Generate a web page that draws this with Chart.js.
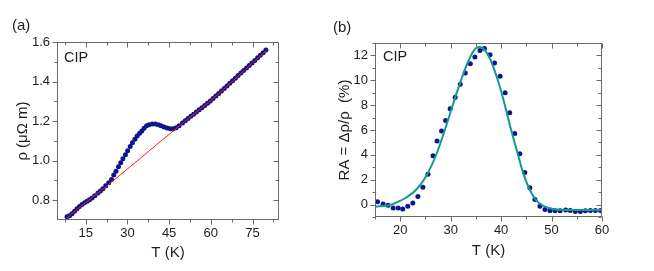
<!DOCTYPE html>
<html>
<head>
<meta charset="utf-8">
<script src="https://cdn.jsdelivr.net/npm/chart.js@4.4.1/dist/chart.umd.min.js"></script>
<style>
    html, body { margin: 0; padding: 0; background: #fff; }
    #wrap { position: relative; width: 654px; height: 271px; }
    canvas { position: absolute; top: 0; }
    #chart-a { left: 0; }
    #chart-b { left: 327px; }
</style>
</head>
<body>
<div id="wrap">
    <canvas id="chart-a" width="327" height="271"></canvas>
    <canvas id="chart-b" width="327" height="271"></canvas>
</div>
<script>
/*--------------------------------------------------------------
| Data, panel (a): resistivity vs temperature
--------------------------------------------------------------*/
const tempA = [
    8.3, 9.2, 10.1, 11.0, 11.9, 12.8, 13.7, 14.6, 15.5, 16.4, 17.3, 18.3,
    19.4, 20.3, 21.2, 22.2, 23.3, 24.3, 25.1, 25.9, 26.8, 27.6, 28.4, 29.3,
    30.1, 31.0, 31.8, 32.7, 33.5, 34.4, 35.2, 36.0, 36.9, 37.8, 38.9, 40.0,
    41.1, 42.1, 43.2, 44.3, 45.4, 46.5, 47.5, 48.6, 49.8, 50.8, 51.8, 52.8,
    53.8, 54.8, 55.8, 56.8, 57.8, 58.8, 59.8, 60.8, 61.8, 62.8, 63.8, 64.8,
    65.8, 66.8, 67.8, 68.8, 69.8, 70.8, 71.8, 72.8, 73.8, 74.8, 75.8, 76.8,
    77.8, 78.8, 79.8
];
const rhoA = [
    0.716, 0.722, 0.732, 0.744, 0.757, 0.768, 0.778, 0.787, 0.795, 0.803, 0.811, 0.822,
    0.837, 0.847, 0.858, 0.873, 0.888, 0.905, 0.927, 0.947, 0.969, 0.989, 1.010, 1.030,
    1.050, 1.071, 1.091, 1.108, 1.125, 1.139, 1.150, 1.164, 1.176, 1.182, 1.186, 1.186,
    1.182, 1.176, 1.170, 1.165, 1.162, 1.162, 1.167, 1.177, 1.191, 1.202, 1.213, 1.224,
    1.235, 1.246, 1.257, 1.268, 1.279, 1.290, 1.302, 1.314, 1.327, 1.340, 1.352, 1.365,
    1.378, 1.391, 1.404, 1.417, 1.430, 1.443, 1.456, 1.469, 1.481, 1.494, 1.507, 1.520,
    1.533, 1.546, 1.559
];
// background fit (red line)
const fitTempA = [8.3, 10, 15, 20, 25, 30, 35, 40, 45, 50, 55, 60, 65, 70, 75, 80];
const fitRhoA = [0.710, 0.731, 0.788, 0.843, 0.900, 0.958, 1.016, 1.075, 1.133, 1.191, 1.247, 1.304, 1.366, 1.430, 1.494, 1.558];

const xMajorA = [15, 30, 45, 60, 75];
const xMinorA = [7.5, 22.5, 37.5, 52.5, 67.5, 82.5];
const yMajorA = [0.8, 1.0, 1.2, 1.4, 1.6];
const yMinorA = [0.9, 1.1, 1.3, 1.5];

/*--------------------------------------------------------------
| Data, panel (b): resistance anomaly
--------------------------------------------------------------*/
const tempB = [
    15.5, 16.6, 17.6, 18.6, 19.6, 20.5, 21.5, 22.5, 23.5, 24.5, 25.5, 26.5,
    27.3, 28.2, 29.0, 29.9, 30.9, 31.9, 32.9, 33.9, 34.8, 35.8, 36.7, 37.8,
    38.7, 39.8, 40.8, 41.7, 42.7, 43.7, 44.7, 45.7, 46.7, 47.7, 48.7, 49.7,
    50.7, 51.7, 52.8, 53.7, 54.7, 55.7, 56.7, 57.7, 58.7, 59.7
];
const raB = [
    0.22, 0.05, -0.05, -0.27, -0.27, -0.35, -0.13, 0.13, 0.64, 1.39, 2.43, 3.92,
    5.12, 5.92, 6.77, 7.71, 8.64, 9.68, 10.59, 11.33, 11.87, 12.40, 12.56, 12.05,
    11.39, 10.32, 8.99, 7.39, 5.71, 4.08, 2.59, 1.36, 0.40, -0.13, -0.40, -0.50,
    -0.50, -0.50, -0.43, -0.47, -0.55, -0.55, -0.50, -0.47, -0.47, -0.47
];
// fitted curve (teal line)
const fitTempB = [15, 18.0, 19.4, 21.3, 23.3, 25.3, 27.3, 29.2, 31.2, 33.2, 34.8, 35.8, 36.8, 37.8, 39.1, 40.4, 41.7, 43.1, 44.4, 45.7, 47.0, 48.3, 50.3, 53.6, 60];
const fitRaB = [-0.18, -0.03, 0.19, 0.59, 1.25, 2.40, 4.19, 6.45, 8.99, 11.25, 12.50, 12.67, 12.40, 11.73, 10.32, 8.53, 6.45, 4.37, 2.51, 1.17, 0.32, -0.08, -0.35, -0.43, -0.43];

const xMajorB = [20, 30, 40, 50, 60];
const xMinorB = [15, 25, 35, 45, 55];
const yMajorB = [0, 2, 4, 6, 8, 10, 12];
const yMinorB = [-1, 1, 3, 5, 7, 9, 11, 13];

/*--------------------------------------------------------------
| Shared styling
--------------------------------------------------------------*/
const FONT = "'Liberation Sans', Arial, sans-serif";
const AXIS_COLOR = "#6a6a6a";
const TEXT_COLOR = "#1e1e1e";
const DOT_COLOR = "#0b168c";

// Origin-style box: outward ticks bottom/left, inward ticks top/right
const boxPlugin = {
    id: "originBox",
    afterDraw(chart, args, opts) {
        const { ctx, chartArea: a, scales } = chart;
        const L = Math.round(a.left) + 0.5;
        const R = Math.round(a.right) - 0.5;
        const T = Math.round(a.top) + 0.5;
        const B = Math.round(a.bottom) - 0.5;

        ctx.save();
        ctx.strokeStyle = AXIS_COLOR;
        ctx.lineWidth = 1;
        ctx.strokeRect(L, T, R - L, B - T);

        ctx.beginPath();
        const xTicks = (vals, len) => vals.forEach((v) => {
            const px = Math.round(scales.x.getPixelForValue(v)) + 0.5;
            ctx.moveTo(px, B); ctx.lineTo(px, B + len);
            ctx.moveTo(px, T); ctx.lineTo(px, T + len);
        });
        const yTicks = (vals, len) => vals.forEach((v) => {
            const py = Math.round(scales.y.getPixelForValue(v)) + 0.5;
            ctx.moveTo(L, py); ctx.lineTo(L - len, py);
            ctx.moveTo(R, py); ctx.lineTo(R - len, py);
        });
        xTicks(opts.xMajor, 5);
        xTicks(opts.xMinor, 3);
        yTicks(opts.yMajor, 5);
        yTicks(opts.yMinor, 3);
        ctx.stroke();

        ctx.fillStyle = TEXT_COLOR;
        ctx.textBaseline = "middle";
        ctx.font = "14.5px " + FONT;
        ctx.fillText("CIP", a.left + opts.noteDx, a.top + opts.noteDy);
        ctx.font = "15px " + FONT;
        ctx.fillText(opts.panel, opts.panelX, opts.panelY);
        ctx.restore();
    },
};

function buildOptions(p) {
    return {
        responsive: false,
        animation: false,
        layout: { padding: { top: p.top, right: p.right, left: 0, bottom: 0 } },
        plugins: {
            legend: { display: false },
            tooltip: { enabled: false },
            originBox: p.box,
        },
        scales: {
            x: {
                type: "linear",
                min: p.xMin,
                max: p.xMax,
                afterBuildTicks: (s) => { s.ticks = p.xMajor.map((v) => ({ value: v })); },
                afterFit: (s) => { s.height = p.xHeight; },
                grid: { display: false, drawTicks: false },
                border: { display: false },
                ticks: { color: TEXT_COLOR, font: { family: FONT, size: 13 }, padding: 6, maxRotation: 0 },
                title: {
                    display: true,
                    text: "T (K)",
                    color: TEXT_COLOR,
                    font: { family: FONT, size: 15 },
                    padding: { top: 0, bottom: p.xTitlePad },
                },
            },
            y: {
                type: "linear",
                min: p.yMin,
                max: p.yMax,
                afterBuildTicks: (s) => { s.ticks = p.yMajor.map((v) => ({ value: v })); },
                afterFit: (s) => { s.width = p.yWidth; },
                grid: { display: false, drawTicks: false },
                border: { display: false },
                ticks: { color: TEXT_COLOR, font: { family: FONT, size: 13 }, padding: 7, callback: p.yFormat },
                title: {
                    display: true,
                    text: p.yTitle,
                    color: TEXT_COLOR,
                    font: { family: FONT, size: 15 },
                    padding: { top: p.yTitlePad, bottom: 0 },
                },
            },
        },
    };
}

/*--------------------------------------------------------------
| Panel (a)
--------------------------------------------------------------*/
new Chart(document.getElementById("chart-a"), {
    type: "scatter",
    data: {
        datasets: [
            {
                data: fitTempA.map((t, i) => ({ x: t, y: fitRhoA[i] })),
                showLine: true,
                borderColor: "#ff1a1a",
                borderWidth: 1,
                pointRadius: 0,
                tension: 0.3,
            },
            {
                data: tempA.map((t, i) => ({ x: t, y: rhoA[i] })),
                pointRadius: 2.5,
                pointBackgroundColor: DOT_COLOR,
                pointBorderWidth: 0,
            },
        ],
    },
    options: buildOptions({
        top: 42, right: 48,
        xMin: 4.7, xMax: 84.5, yMin: 0.7, yMax: 1.6,
        xMajor: xMajorA, yMajor: yMajorA,
        xHeight: 51, yWidth: 57,
        xTitlePad: 9, yTitlePad: 14,
        yTitle: "ρ (μΩ m)",
        yFormat: (v) => v.toFixed(1),
        box: {
            xMajor: xMajorA, xMinor: xMinorA, yMajor: yMajorA, yMinor: yMinorA,
            noteDx: 7, noteDy: 15.5, panel: "(a)", panelX: 12, panelY: 26,
        },
    }),
    plugins: [boxPlugin],
});

/*--------------------------------------------------------------
| Panel (b)
--------------------------------------------------------------*/
new Chart(document.getElementById("chart-b"), {
    type: "scatter",
    data: {
        datasets: [
            {
                data: fitTempB.map((t, i) => ({ x: t, y: fitRaB[i] })),
                showLine: true,
                borderColor: "#109a94",
                borderWidth: 2,
                pointRadius: 0,
                cubicInterpolationMode: "monotone",
            },
            {
                data: tempB.map((t, i) => ({ x: t, y: raB[i] })),
                pointRadius: 2.5,
                pointBackgroundColor: DOT_COLOR,
                pointBorderWidth: 0,
            },
        ],
    },
    options: buildOptions({
        top: 43, right: 52,
        xMin: 15, xMax: 60, yMin: -1, yMax: 13,
        xMajor: xMajorB, yMajor: yMajorB,
        xHeight: 54, yWidth: 48,
        xTitlePad: 11, yTitlePad: 9,
        yTitle: "RA = Δρ/ρ  (%)",
        yFormat: (v) => v,
        box: {
            xMajor: xMajorB, xMinor: xMinorB, yMajor: yMajorB, yMinor: yMinorB,
            noteDx: 8, noteDy: 14, panel: "(b)", panelX: 6, panelY: 28,
        },
    }),
    plugins: [boxPlugin],
});
</script>
</body>
</html>
